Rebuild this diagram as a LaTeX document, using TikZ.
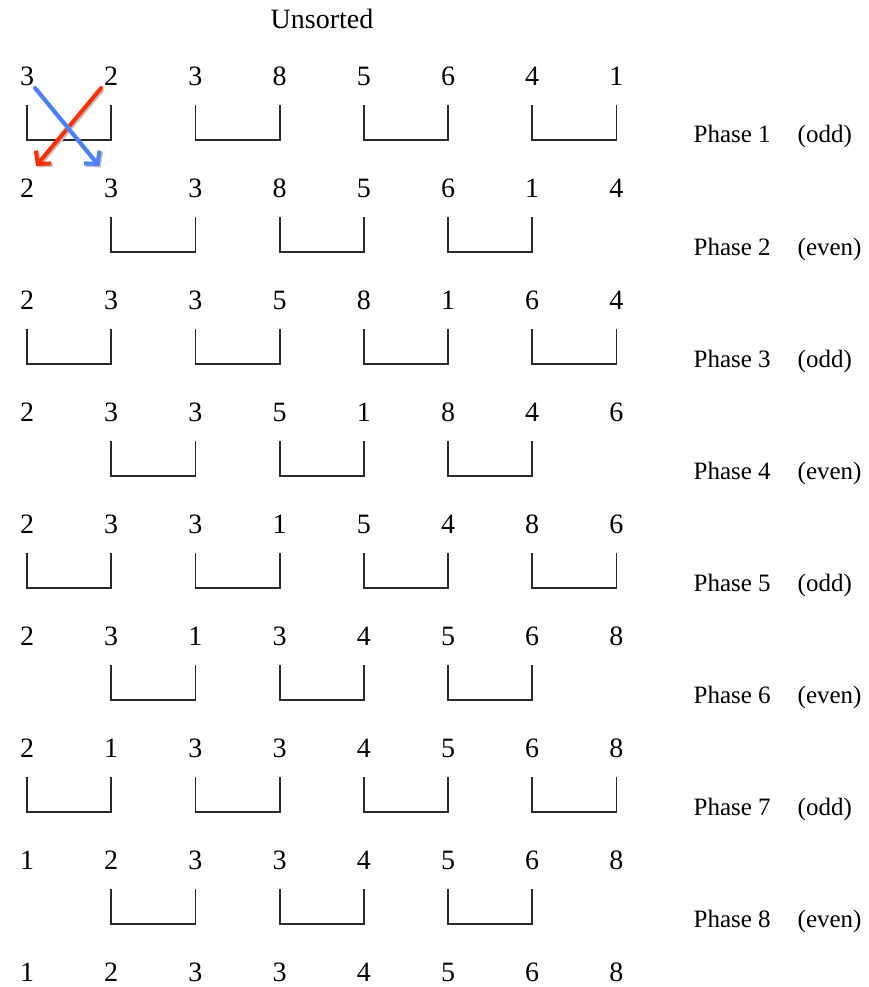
\documentclass[tikz,border=0pt]{standalone}
\usepackage{fontspec}
\setmainfont{Liberation Serif}
\usepackage{tikz}
\usetikzlibrary{arrows.meta, calc}
\definecolor{swapR}{RGB}{255,45,0}
\definecolor{swapB}{RGB}{72,128,255}
\definecolor{bracketC}{RGB}{40,40,40}

\begin{document}
\begin{tikzpicture}[
    x=1pt,y=-1pt,
    every node/.style={font=\fontsize{28}{32}\selectfont},
    num/.style={inner sep=0pt},
    phase/.style={anchor=base west,inner sep=0pt,font=\fontsize{25}{30}\selectfont},
    bracket/.style={draw=bracketC,line width=1.8pt},
    swap/.style={line width=4pt,line cap=round,
      -{Straight Barb[length=9pt,width=20pt,line width=4pt]},
      preaction={draw=black!25,line width=4pt,transform canvas={shift={(1.5pt,-1.5pt)}}}},
  ]
  \useasboundingbox (0,0) rectangle (869,987);

  % Title
  \node[anchor=base] (title) at (322,29) {Unsorted};

  % Rows of values, one row per phase
  \foreach \row [count=\i from 0] in {
      {3,2,3,8,5,6,4,1},
      {2,3,3,8,5,6,1,4},
      {2,3,3,5,8,1,6,4},
      {2,3,3,5,1,8,4,6},
      {2,3,3,1,5,4,8,6},
      {2,3,1,3,4,5,6,8},
      {2,1,3,3,4,5,6,8},
      {1,2,3,3,4,5,6,8},
      {1,2,3,3,4,5,6,8}} {
    \foreach \v [count=\j from 0] in \row {
      \node[num] (n-\i-\j) at ({27+84.2*\j},{76+112*\i}) {\v};
    }
  }

  % Compare brackets and phase labels
  \foreach \i in {0,...,7} {
    \pgfmathtruncatemacro{\ph}{\i+1}
    \ifodd\ph
      \def\pairs{0,2,4,6}\def\kind{odd}
    \else
      \def\pairs{1,3,5}\def\kind{even}
    \fi
    \foreach \j in \pairs {
      \pgfmathtruncatemacro{\k}{\j+1}
      \draw[bracket] ($(n-\i-\j)+(0,29)$) |- ($(n-\i-\k)+(0,64)$)
        -- ($(n-\i-\k)+(0,29)$);
    }
    \node[phase] (ph-\i) at ($(n-\i-7)+(77,67)$) {Phase \ph\hspace{27pt}(\kind)};
  }

  % Swap of the first pair
  \draw[swap,swapR] ($(n-0-1)+(-10,12)$) -- ($(n-1-0)+(9,-22)$);
  \draw[swap,swapB] ($(n-0-0)+(8,12)$) -- ($(n-1-1)+(-12,-22)$);

\end{tikzpicture}
\end{document}
